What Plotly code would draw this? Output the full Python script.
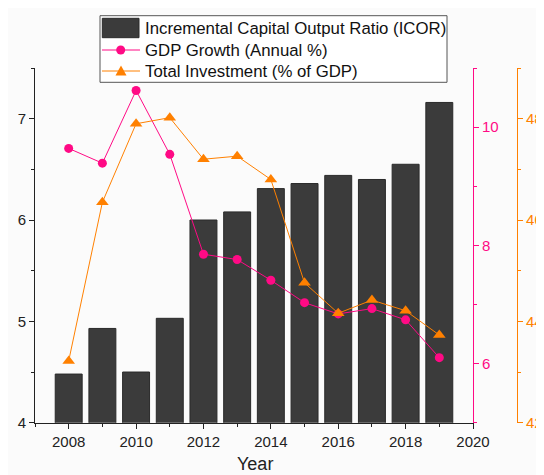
import plotly.graph_objects as go

years = [2008, 2009, 2010, 2011, 2012, 2013, 2014, 2015, 2016, 2017, 2018, 2019]
icor = [4.48, 4.93, 4.50, 5.03, 6.00, 6.08, 6.31, 6.36, 6.44, 6.40, 6.55, 7.16]
gdp_growth = [9.64, 9.39, 10.62, 9.54, 7.85, 7.76, 7.41, 7.03, 6.84, 6.93, 6.74, 6.10]
investment = [43.22, 46.35, 47.90, 48.02, 47.20, 47.26, 46.80, 44.76, 44.16, 44.42, 44.21, 43.73]
series_names = ["Incremental Capital Output Ratio (ICOR)", "GDP Growth (Annual %)", "Total Investment (% of GDP)"]
x_title = "Year"

PINK = "#ff0a85"
ORANGE = "#ff8000"
BAR = "#3b3b3b"
FONT = "Arial, Liberation Sans, sans-serif"

# figure is placed by the page at an 8px body offset
OFF = 8
W, H = 544 - OFF, 475 - OFF


def px(x):
    return (x - OFF) / W


def py(y):
    return 1 - (y - OFF) / H


fig = go.Figure()
fig.add_trace(go.Bar(
    x=years, y=icor, name=series_names[0],
    marker=dict(color=BAR, line=dict(color="#2a2a2a", width=1)),
    width=0.8, yaxis="y",
))
fig.add_trace(go.Scatter(
    x=years, y=gdp_growth, name=series_names[1], mode="lines+markers",
    line=dict(color=PINK, width=1),
    marker=dict(symbol="circle", size=9, color=PINK),
    yaxis="y2",
))
fig.add_trace(go.Scatter(
    x=years, y=investment, name=series_names[2], mode="lines+markers",
    line=dict(color=ORANGE, width=1),
    marker=dict(symbol="triangle-up", size=11, color=ORANGE),
    yaxis="y3",
))

# legend drawn as a boxed key
shapes = [
    dict(type="rect", xref="paper", yref="paper", x0=px(100), x1=px(447), y0=py(82.3), y1=py(15.7),
         fillcolor="#ffffff", line=dict(color="#555", width=1), layer="above"),
    dict(type="rect", xref="paper", yref="paper", x0=px(102.3), x1=px(139), y0=py(37.7), y1=py(18.3),
         fillcolor=BAR, line=dict(color="#2a2a2a", width=1), layer="above"),
    dict(type="line", xref="paper", yref="paper", x0=px(102), x1=px(140), y0=py(50), y1=py(50),
         line=dict(color=PINK, width=1), layer="above"),
    dict(type="circle", xref="paper", yref="paper", x0=px(116.2), x1=px(125.2), y0=py(54.5), y1=py(45.5),
         fillcolor=PINK, line=dict(color=PINK, width=0), layer="above"),
    dict(type="line", xref="paper", yref="paper", x0=px(102), x1=px(140), y0=py(71), y1=py(71),
         line=dict(color=ORANGE, width=1), layer="above"),
    dict(type="path", xref="paper", yref="paper",
         path=f"M {px(115.5)},{py(75.5)} L {px(126.5)},{py(75.5)} L {px(121)},{py(65.5)} Z",
         fillcolor=ORANGE, line=dict(color=ORANGE, width=0), layer="above"),
]
annotations = [
    dict(text=series_names[i], xref="paper", yref="paper", x=px(143), y=py(yc),
         xanchor="left", yanchor="middle", showarrow=False,
         font=dict(family=FONT, size=16.8, color="#111"))
    for i, yc in enumerate([28.3, 50, 71])
]
annotations.append(dict(
    text=x_title, xref="paper", yref="paper", x=px(255), y=py(463.5),
    xanchor="center", yanchor="middle", showarrow=False,
    font=dict(family=FONT, size=18, color="#222"),
))

x0, x1 = px(35), px(473)
y0, y1 = py(422.7), py(68)

fig.update_layout(
    width=W, height=H,
    margin=dict(l=0, r=0, t=0, b=0, autoexpand=False),
    paper_bgcolor="#fbfbfb", plot_bgcolor="#fbfbfb",
    font=dict(family=FONT, size=15, color="#222"),
    showlegend=False,
    shapes=shapes,
    annotations=annotations,
    xaxis=dict(
        domain=[x0, x1], range=[2007, 2020], automargin=False,
        tickmode="linear", tick0=2008, dtick=2,
        ticks="outside", ticklen=5, tickcolor="#222",
        showline=True, linecolor="#222", linewidth=1,
        showgrid=False, zeroline=False,
        tickfont=dict(size=15, color="#222"),
        minor=dict(dtick=1, tick0=2007, ticks="outside", ticklen=3, tickcolor="#222", showgrid=False),
    ),
    yaxis=dict(
        domain=[y0, y1], range=[4, 7.5], automargin=False,
        tickmode="linear", tick0=4, dtick=1,
        ticks="outside", ticklen=5, tickcolor="#222",
        showline=True, linecolor="#222", linewidth=1,
        showgrid=False, zeroline=False,
        tickfont=dict(size=15, color="#222"),
        minor=dict(dtick=0.5, ticks="outside", ticklen=3, tickcolor="#222", showgrid=False),
    ),
    yaxis2=dict(
        overlaying="y", side="right", anchor="x", range=[5, 11], automargin=False,
        tickmode="linear", tick0=6, dtick=2,
        ticks="outside", ticklen=5, tickcolor=PINK,
        showline=True, linecolor=PINK, linewidth=1,
        showgrid=False, zeroline=False,
        tickfont=dict(size=15, color=PINK),
        minor=dict(dtick=1, ticks="outside", ticklen=3, tickcolor=PINK, showgrid=False),
    ),
    yaxis3=dict(
        overlaying="y", side="right", anchor="free", position=px(517), range=[42, 49],
        automargin=False,
        tickmode="linear", tick0=42, dtick=2,
        ticks="outside", ticklen=5, tickcolor=ORANGE,
        showline=True, linecolor=ORANGE, linewidth=1,
        showgrid=False, zeroline=False,
        tickfont=dict(size=15, color=ORANGE),
        minor=dict(dtick=1, ticks="outside", ticklen=3, tickcolor=ORANGE, showgrid=False),
    ),
)

fig.write_html("out.html")
